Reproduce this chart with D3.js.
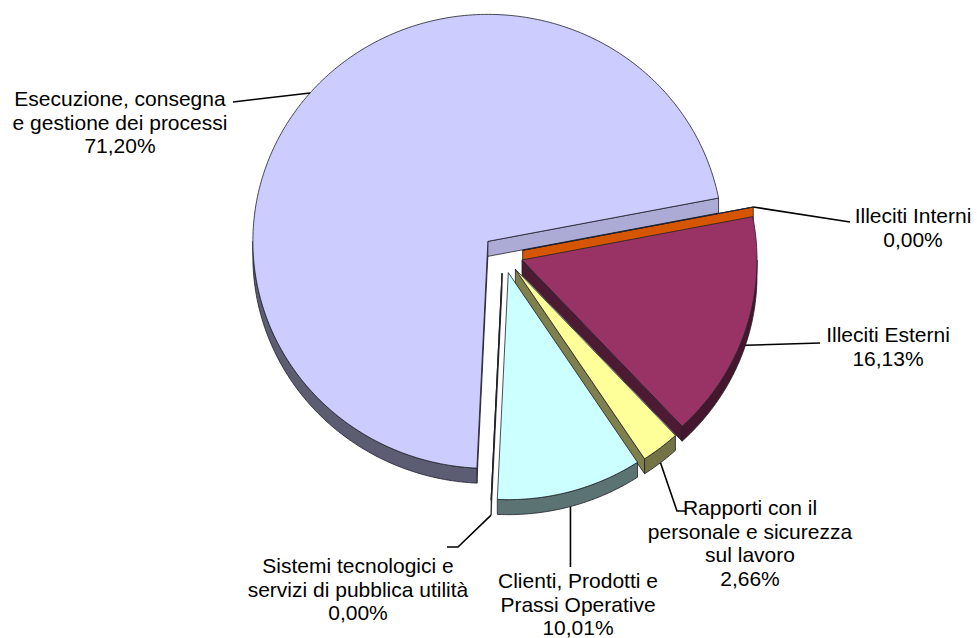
<!DOCTYPE html>
<html>
<head>
<meta charset="utf-8">
<script src="https://cdn.jsdelivr.net/npm/d3@7"></script>
<style>
  html, body { margin: 0; padding: 0; background: #fff; }
  svg { display: block; }
  text { font-family: "Liberation Sans", Arial, Helvetica, sans-serif; font-size: 21px; fill: #000; }
</style>
</head>
<body>
<svg id="chart" width="977" height="638"></svg>
<script>
// Loss distribution by event type (percent of total)
const categories = [
  "Illeciti Interni",
  "Illeciti Esterni",
  "Rapporti con il personale e sicurezza sul lavoro",
  "Clienti, Prodotti e Prassi Operative",
  "Sistemi tecnologici e servizi di pubblica utilità",
  "Esecuzione, consegna e gestione dei processi"
];
const values = [0.00, 16.13, 2.66, 10.01, 0.00, 71.20];
const labelLines = [
  ["Illeciti Interni"],
  ["Illeciti Esterni"],
  ["Rapporti con il", "personale e sicurezza", "sul lavoro"],
  ["Clienti, Prodotti e", "Prassi Operative"],
  ["Sistemi tecnologici e", "servizi di pubblica utilità"],
  ["Esecuzione, consegna", "e gestione dei processi"]
];

// Slice fill colours
const colors = ["#FF6600", "#993366", "#FFFF99", "#CCFFFF", "#7a2a2a", "#CCCCFF"];

// Label placement: text centre, first baseline, leader bend points
const labelLayout = [
  { x: 913, y: 223, bends: [[850, 222]] },
  { x: 888, y: 342, bends: [[820, 343]] },
  { x: 750, y: 515, bends: [[677, 511], [686, 511]] },
  { x: 578, y: 588, bends: [[null, 567]] },
  { x: 358, y: 573, bends: [[458, 547], [447, 547]] },
  { x: 120, y: 106, bends: [[233, 102]] }
];

// 3D pie geometry
const cx = 503, cy = 254;     // pie centre on screen
const rx = 235, ry = 227;     // elliptical radii of the top face
const depth = 15;             // extrusion height
const explode = 20;           // offset of each slice from the centre
const lineHeight = 23.5;
const deg = Math.PI / 180;
const start = 79 * deg;

const svg = d3.select("#chart");

const pie = d3.pie()
  .sort(null)
  .value(d => d)
  .startAngle(start)
  .endAngle(start + 2 * Math.PI);

const arcs = pie(values);

const fmt = v => d3.format(".2f")(v).replace(".", ",") + "%";

function rim(o, a, dy = 0) {
  return [o[0] + rx * Math.sin(a), o[1] - ry * Math.cos(a) + dy];
}

function arcPoints(o, a0, a1, dy = 0) {
  const n = Math.max(2, Math.ceil(Math.abs(a1 - a0) / deg));
  return d3.range(n + 1).map(i => rim(o, a0 + (a1 - a0) * i / n, dy));
}

const poly = pts => "M" + pts.map(p => p[0].toFixed(2) + "," + p[1].toFixed(2)).join("L") + "Z";

function shade(c, f) {
  const r = d3.rgb(c);
  return d3.rgb(r.r * f, r.g * f, r.b * f).formatHex();
}

// normal angle -> brightness of a flat cut face
function faceFactor(n) {
  let a = ((n / deg) % 360 + 360) % 360;
  return (a > 140 && a < 200) ? 0.84 : 0.5;
}

const stroke = "#20202a";
const sw = 0.8;

const slices = arcs.map((d, i) => {
  const mid = (d.startAngle + d.endAngle) / 2;
  const o = [cx + explode * Math.sin(mid), cy - explode * Math.cos(mid) * (ry / rx)];
  return { d, i, mid, o };
});

// Paint order: large background slice first, then the others
const order = [5, 0, 1, 2, 3, 4];

const g = svg.append("g");

order.forEach(i => {
  const s = slices[i];
  const { d, o } = s;
  const a0 = d.startAngle, a1 = d.endAngle;
  const col = colors[i];
  const sg = g.append("g").attr("class", "slice");

  // cut faces that look downward
  const faces = [
    { a: a0, n: a0 - Math.PI / 2 },
    { a: a1, n: a1 + Math.PI / 2 }
  ];
  faces.forEach(f => {
    if (Math.cos(f.n) < 0) {
      const r = rim(o, f.a);
      sg.append("path")
        .attr("d", poly([o, r, [r[0], r[1] + depth], [o[0], o[1] + depth]]))
        .attr("fill", shade(col, faceFactor(f.n)))
        .attr("stroke", stroke).attr("stroke-width", sw).attr("stroke-linejoin", "round");
    }
  });

  // outer wall on the front half (90deg..270deg)
  const vis = [];
  for (let k = -1; k <= 1; k++) {
    const lo = Math.max(a0, (90 + 360 * k) * deg);
    const hi = Math.min(a1, (270 + 360 * k) * deg);
    if (hi > lo) vis.push([lo, hi]);
  }
  vis.forEach(([lo, hi]) => {
    const top = arcPoints(o, lo, hi);
    const bot = arcPoints(o, hi, lo, depth);
    sg.append("path")
      .attr("d", poly(top.concat(bot)))
      .attr("fill", shade(col, 0.45))
      .attr("stroke", stroke).attr("stroke-width", sw).attr("stroke-linejoin", "round");
  });

  // top face
  const topPts = [o].concat(arcPoints(o, a0, a1));
  sg.append("path")
    .attr("d", poly(topPts))
    .attr("fill", col)
    .attr("stroke", stroke).attr("stroke-width", sw).attr("stroke-linejoin", "round");
});

// Leader lines and labels
const lg = svg.append("g");
slices.forEach(s => {
  const L = labelLayout[s.i];
  const frontHalf = Math.cos(s.mid) < 0;
  const anchor = rim(s.o, s.mid, frontHalf ? depth : 0);
  const pts = [anchor].concat(L.bends.map(b => [b[0] === null ? anchor[0] : b[0], b[1]]));
  lg.append("path")
    .attr("d", d3.line()(pts))
    .attr("fill", "none")
    .attr("stroke", "#000")
    .attr("stroke-width", 1.6);

  const t = lg.append("text").attr("text-anchor", "middle");
  const lines = labelLines[s.i].concat([fmt(values[s.i])]);
  lines.forEach((ln, k) => {
    t.append("tspan").attr("x", L.x).attr("y", L.y + k * lineHeight).text(ln);
  });
});
</script>
</body>
</html>
